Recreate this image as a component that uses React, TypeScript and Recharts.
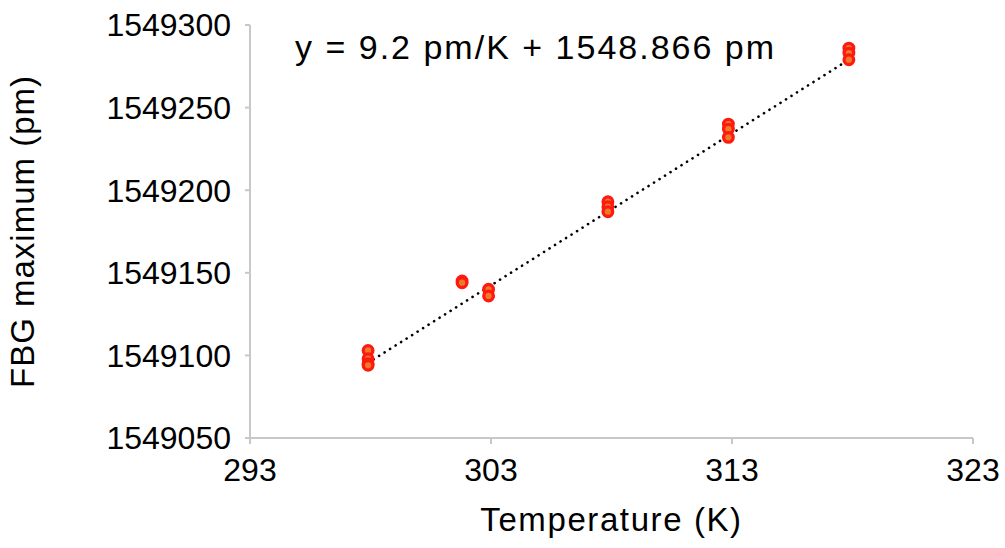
import {
  ScatterChart,
  Scatter,
  XAxis,
  YAxis,
  ReferenceLine,
  Label,
} from "recharts";

// temperature (K) / FBG peak (pm)
const temps = [297.9, 297.9, 297.9, 297.9, 301.8, 301.8, 302.9, 302.9, 307.85, 307.85, 307.85, 312.85, 312.85, 312.85, 317.85, 317.85, 317.85];
const peaks = [1549103, 1549098, 1549095, 1549094, 1549145, 1549144, 1549140, 1549136, 1549193, 1549190, 1549187, 1549240, 1549237, 1549232, 1549286, 1549283, 1549279];

const xTicks = [293, 303, 313, 323];
const yTicks = [1549050, 1549100, 1549150, 1549200, 1549250, 1549300];

// ends of the fitted line
const fitEnds = [
  { x: 297.9, y: 1549095.5 },
  { x: 317.85, y: 1549279 },
];

const points = temps.map((t, i) => ({ t, p: peaks[i] }));

const FONT = "'Liberation Sans', Arial, Helvetica, sans-serif";
const axisGray = "#c8c8c8";

const Marker = (props: any) => {
  const { cx, cy } = props;
  return (
    <circle cx={cx} cy={cy} r={4.8} fill="#ee7a28" stroke="#fd1a10" strokeWidth={3.3} />
  );
};

export default function App() {
  return (
    <div style={{ position: "absolute", left: 0, top: 0, background: "#fff", fontFamily: FONT }}>
      <ScatterChart
        width={1005}
        height={548}
        margin={{ top: 25, right: 32, bottom: 80, left: 0 }}
      >
        <XAxis
          type="number"
          dataKey="t"
          domain={[293, 323]}
          ticks={xTicks}
          interval={0}
          height={30}
          stroke={axisGray}
          strokeWidth={2}
          tickSize={6}
          tickMargin={14}
          tick={{ fill: "#000", fontSize: 32, fontFamily: FONT }}
        >
          <Label
            value="Temperature (K)"
            position="insideBottom"
            offset={-63}
            style={{ fill: "#000", fontSize: 33, fontFamily: FONT, letterSpacing: 1.6 }}
          />
        </XAxis>
        <YAxis
          type="number"
          dataKey="p"
          domain={[1549050, 1549300]}
          ticks={yTicks}
          interval={0}
          width={250}
          stroke={axisGray}
          strokeWidth={2}
          tickSize={5}
          tickMargin={14}
          tick={{ fill: "#000", fontSize: 32, fontFamily: FONT }}
        >
          <Label
            value="FBG maximum (pm)"
            angle={-90}
            position="insideLeft"
            offset={22}
            style={{ fill: "#000", fontSize: 33, fontFamily: FONT, textAnchor: "middle", letterSpacing: 1 }}
          />
        </YAxis>
        <ReferenceLine
          segment={fitEnds}
          stroke="#000"
          strokeWidth={2.6}
          strokeDasharray="0.1 6.4"
          strokeLinecap="round"
          ifOverflow="visible"
        />
        <Scatter data={points} shape={<Marker />} isAnimationActive={false} />
      </ScatterChart>
      <div
        style={{
          position: "absolute",
          left: 295,
          top: 27,
          fontSize: 34,
          letterSpacing: 2,
          color: "#000",
          whiteSpace: "nowrap",
          lineHeight: "40px",
        }}
      >
        y = 9.2 pm/K + 1548.866 pm
      </div>
    </div>
  );
}
